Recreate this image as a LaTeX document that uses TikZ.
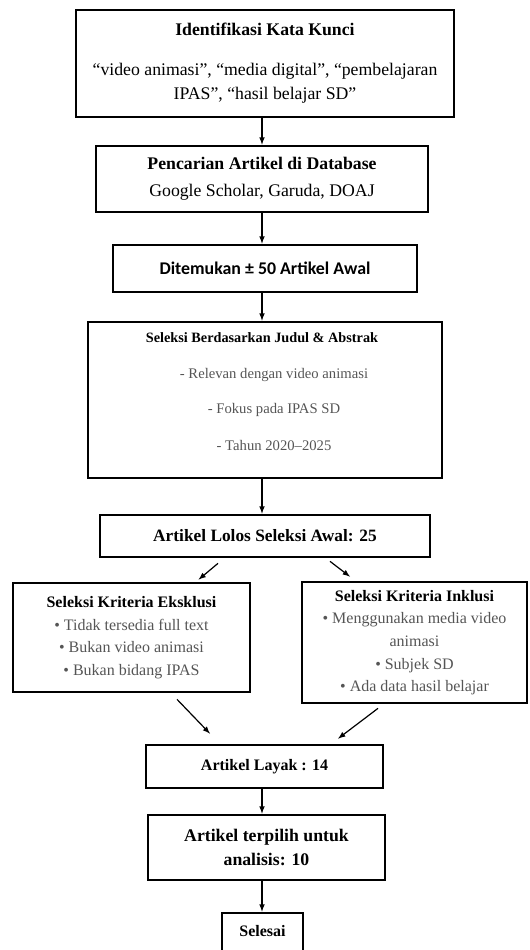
\documentclass[tikz,border=0pt]{standalone}
\usepackage{fontspec}
\setmainfont{Liberation Serif}
\newfontfamily\calibrifont{Carlito}
\usetikzlibrary{calc}
\definecolor{itemgray}{RGB}{85,85,85}

\begin{document}
\begin{tikzpicture}[x=0.75pt,y=0.75pt,>=latex,
    box/.style={draw,line width=2pt,align=center,inner sep=2pt},
    item/.style={text=itemgray,font=\fontsize{11}{13}\selectfont},
    arr/.style={->,line width=0.9pt}]
    \useasboundingbox (0,0) rectangle (529,-950);
    \coordinate (col) at (262,0);

    % Keywords
    \node[box,minimum width=283.5pt,minimum height=80.25pt,font=\fontsize{13.3}{15.5}\selectfont]
        (ident) at (265,-63.5)
        {\textbf{Identifikasi Kata Kunci}\\[14pt]
         “video animasi”, “media digital”, “pembelajaran\\[3pt] IPAS”, “hasil belajar SD”};

    % Database search
    \node[box,minimum width=249pt,minimum height=49.5pt,font=\fontsize{13.3}{15.5}\selectfont]
        (search) at (262,-179)
        {\textbf{Pencarian Artikel di Database}\\[5pt] Google Scholar, Garuda, DOAJ};

    % First result
    \node[box,minimum width=228pt,minimum height=35.25pt,font=\calibrifont\bfseries\fontsize{13.4}{15}\selectfont]
        (found) at (265,-268.5) {Ditemukan ± 50 Artikel Awal};

    % Title and abstract screening
    \node[box,minimum width=265.5pt,minimum height=117pt] (sel) at (265,-400) {};
    \node[font=\bfseries\fontsize{10.7}{12}\selectfont] (seltitle) at (262,-338)
        {Seleksi Berdasarkan Judul \& Abstrak};
    \node[item] (selA) at (274,-375) {- Relevan dengan video animasi};
    \node[item] (selB) at (274,-410) {- Fokus pada IPAS SD};
    \node[item] (selC) at (274,-445) {- Tahun 2020–2025};

    % Passed screening
    \node[box,minimum width=247.5pt,minimum height=31.5pt,font=\bfseries\fontsize{13}{15}\selectfont]
        (pass) at (265,-536) {Artikel Lolos Seleksi Awal: 25};

    % Exclusion / inclusion
    \node[box,minimum width=177.75pt,minimum height=81.75pt,font=\fontsize{12}{14}\selectfont]
        (excl) at (131.5,-637.5)
        {\textbf{Seleksi Kriteria Eksklusi}\\[3pt]
         \textcolor{itemgray}{• Tidak tersedia full text}\\[3pt]
         \textcolor{itemgray}{• Bukan video animasi}\\[3pt]
         \textcolor{itemgray}{• Bukan bidang IPAS}};
    \node[box,minimum width=168.75pt,minimum height=90.75pt,font=\fontsize{12}{14}\selectfont]
        (incl) at (414.5,-642.5)
        {\textbf{Seleksi Kriteria Inklusi}\\[3pt]
         \textcolor{itemgray}{• Menggunakan media video}\\[3pt]
         \textcolor{itemgray}{animasi}\\[3pt]
         \textcolor{itemgray}{• Subjek SD}\\[3pt]
         \textcolor{itemgray}{• Ada data hasil belajar}};

    % Eligible and chosen
    \node[box,minimum width=177.75pt,minimum height=32.25pt,font=\bfseries\fontsize{12}{14}\selectfont]
        (layak) at (264.5,-766.5) {Artikel Layak : 14};
    \node[box,minimum width=177.75pt,minimum height=48.75pt,font=\bfseries\fontsize{13.3}{15.5}\selectfont]
        (chosen) at (266.5,-847.5) {Artikel terpilih untuk\\[2.5pt] analisis: 10};

    % End
    \node[box,minimum width=60.75pt,minimum height=34.5pt,text depth=7pt,font=\bfseries\fontsize{12}{14}\selectfont]
        (done) at (262.5,-936) {Selesai};

    % Vertical flow
    \draw[arr] (ident.south -| col) -- (search.north -| col);
    \draw[arr] (search.south -| col) -- (found.north -| col);
    \draw[arr] (found.south -| col) -- (sel.north -| col);
    \draw[arr] (sel.south -| col) -- (pass.north -| col);
    \draw[arr] (layak.south -| col) -- (chosen.north -| col);
    \draw[arr] (chosen.south -| col) -- (done.north -| col);

    % Branches
    \draw[arr] ($(pass.south)+(-47,-5)$) -- ($(excl.north)+(67,2)$);
    \draw[arr] ($(pass.south)+(65,-3)$) -- ($(incl.north)+(-64.5,4)$);
    \draw[arr] ($(excl.south)+(45.5,-6)$) -- ($(layak.north)+(-54.5,10)$);
    \draw[arr] ($(incl.south)+(-36.5,-4)$) -- ($(layak.north)+(73.5,5)$);
\end{tikzpicture}
\end{document}
